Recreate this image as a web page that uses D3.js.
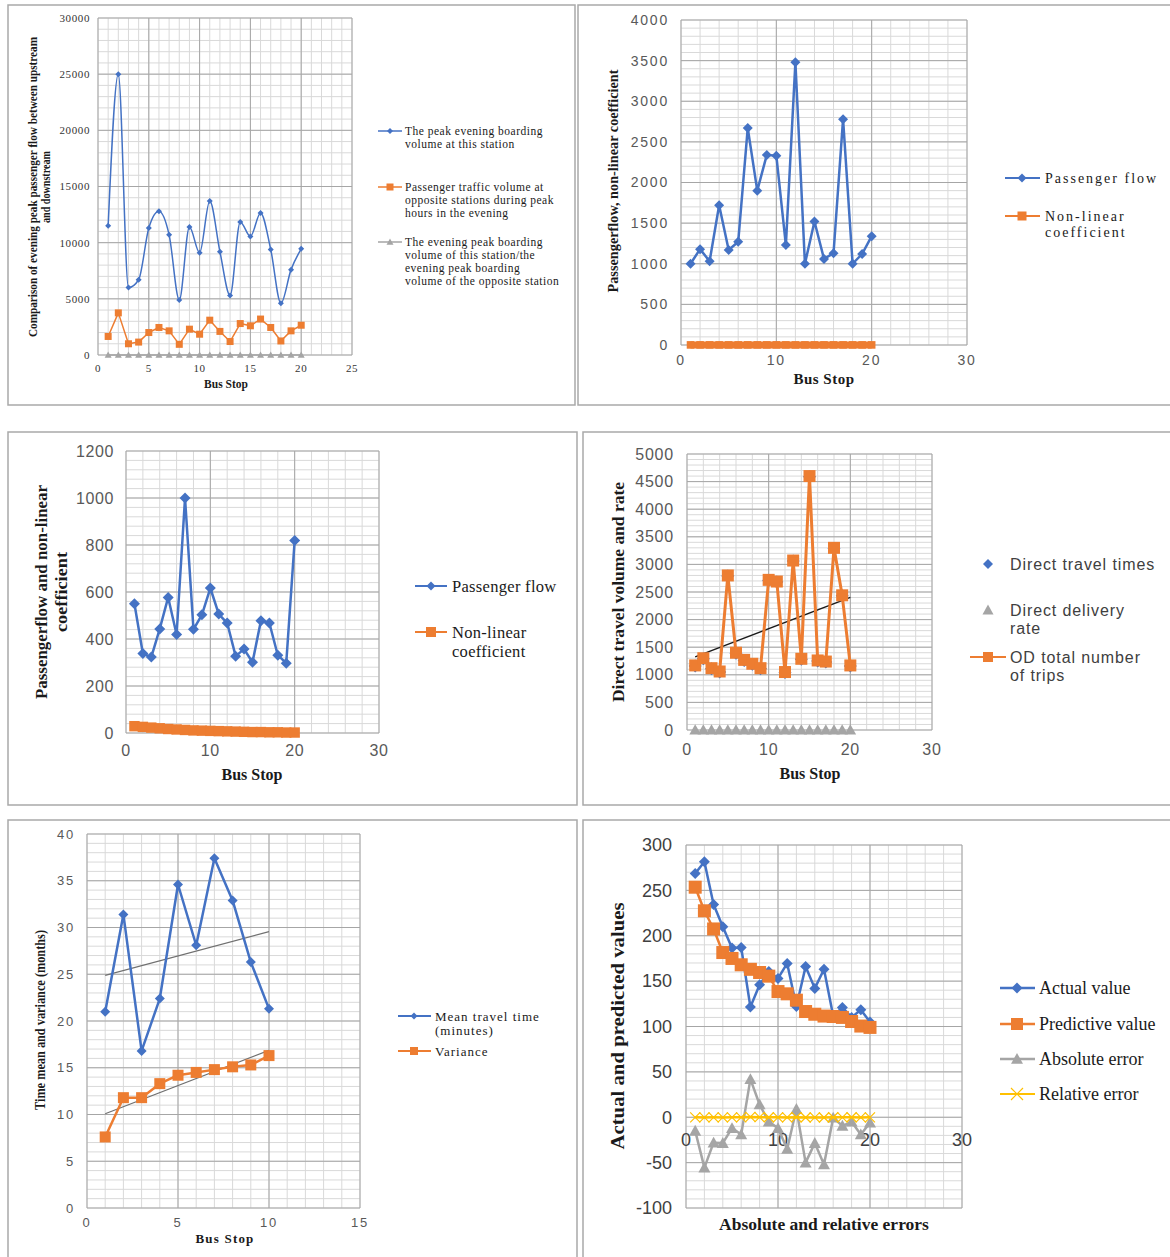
<!DOCTYPE html>
<html><head><meta charset="utf-8">
<script src="https://cdn.jsdelivr.net/npm/d3@7"></script>
<style>body{margin:0;background:#fff}svg{display:block}</style>
</head><body>
<svg id="c" width="1170" height="1257"></svg>
<script>
// ---------------- DATA ----------------
const stops20 = [1,2,3,4,5,6,7,8,9,10,11,12,13,14,15,16,17,18,19,20];
const stops10 = [1,2,3,4,5,6,7,8,9,10];

// Panel 1
const p1Boarding = [11500,25000,6000,6700,11300,12800,10700,4900,11400,9100,13700,9200,5300,11850,10550,12650,9400,4600,7600,9450];
const p1Opposite = [1650,3750,1000,1150,2000,2450,2150,950,2300,1850,3100,2100,1200,2800,2600,3200,2450,1250,2150,2650];
const p1Ratio = [7.0,6.7,6.0,5.8,5.7,5.2,5.0,5.2,4.9,4.9,4.4,4.4,4.4,4.2,4.1,4.0,3.8,3.7,3.5,3.6];
const p1YTicks = [0,5000,10000,15000,20000,25000,30000];
const p1XTicks = [0,5,10,15,20,25];

// Panel 2
const p2Flow = [1000,1180,1030,1720,1170,1270,2670,1900,2340,2330,1230,3480,1000,1520,1060,1130,2780,1000,1120,1340];
const p2Coef = [1.2,1.1,1.3,1.0,1.2,1.1,1.4,1.2,1.1,1.3,1.2,1.0,1.2,1.1,1.3,1.2,1.1,1.2,1.0,1.1];
const p2YTicks = [0,500,1000,1500,2000,2500,3000,3500,4000];
const p2XTicks = [0,10,20,30];

// Panel 3
const p3Flow = [550,338,323,443,577,419,1000,441,503,617,506,468,327,357,301,478,468,331,297,819];
const p3Coef = [29,26,23,20,17,15,13,11,10,9,8,7,6,5,4,4,3,3,2,2];
const p3YTicks = [0,200,400,600,800,1000,1200];
const p3XTicks = [0,10,20,30];

// Panel 4
const p4Trips = [1170,1300,1120,1060,2800,1400,1270,1200,1120,2720,2690,1050,3070,1290,4600,1260,1240,3300,2440,1170];
const p4Times = [1160,1290,1110,1050,2790,1390,1260,1190,1110,2710,2680,1040,3060,1280,4590,1250,1230,3290,2430,1160];
const p4Rate = [0.8,0.9,0.7,0.8,0.9,0.8,0.7,0.8,0.9,0.8,0.7,0.8,0.9,0.8,0.9,0.8,0.7,0.8,0.9,0.8];
const p4YTicks = [0,500,1000,1500,2000,2500,3000,3500,4000,4500,5000];
const p4XTicks = [0,10,20,30];

// Panel 5
const p5Mean = [21.0,31.4,16.8,22.4,34.6,28.1,37.4,32.9,26.3,21.3];
const p5Var = [7.6,11.8,11.8,13.3,14.2,14.5,14.8,15.1,15.3,16.3];
const p5YTicks = [0,5,10,15,20,25,30,35,40];
const p5XTicks = [0,5,10,15];

// Panel 6
const p6Actual = [268.5,281.5,234.5,210,186.5,187,121.5,146,160.5,153,169.5,122,166,142,163,111.5,121,110,118.5,105];
const p6Pred = [253.5,227.5,207.5,181.5,175,168,163,159.5,155.5,138.5,136,129,116.5,113.5,111.5,111,110,105.5,100.5,99];
const p6AbsErr = [-15,-55.5,-28,-28.5,-12,-19,42,14,-5,-12,-35,9,-50,-28.5,-52,-0.5,-9.5,-5,-19,-6];
const p6RelErr = [-0.06,-0.2,-0.12,-0.14,-0.06,-0.1,0.35,0.1,-0.03,-0.08,-0.21,0.07,-0.3,-0.2,-0.32,0,-0.08,-0.05,-0.16,-0.06];
const p6YTicks = [-100,-50,0,50,100,150,200,250,300];
const p6XTicks = [0,10,20,30];

// ---------------- STYLE ----------------
const BLUE = '#4472C4', ORANGE = '#ED7D31', GRAY = '#A5A5A5', YELLOW = '#FFC000';
const SERIF = '"Liberation Serif","Times New Roman",serif';
const SANS = '"Liberation Sans",Arial,sans-serif';
const svg = d3.select('#c');

// panel borders
[[8,5,567,400],[578,5,600,400],[8,432,569,373],[583,432,600,373],[8,820,569,460],[583,820,600,460]].forEach(b=>{
  svg.append('rect').attr('x',b[0]).attr('y',b[1]).attr('width',b[2]).attr('height',b[3])
    .attr('fill','none').attr('stroke','#a9a9a9').attr('stroke-width',1.5);
});

function marker(g, type, cx, cy, s, color){
  if(type==='diamond'){
    g.append('path').attr('d',`M${cx},${cy-s}L${cx+s},${cy}L${cx},${cy+s}L${cx-s},${cy}Z`).attr('fill',color);
  } else if(type==='square'){
    g.append('rect').attr('x',cx-s).attr('y',cy-s).attr('width',2*s).attr('height',2*s).attr('fill',color);
  } else if(type==='triangle'){
    g.append('path').attr('d',`M${cx},${cy-s}L${cx+s},${cy+s*0.8}L${cx-s},${cy+s*0.8}Z`).attr('fill',color);
  } else if(type==='x'){
    g.append('path').attr('d',`M${cx-s},${cy-s}L${cx+s},${cy+s}M${cx-s},${cy+s}L${cx+s},${cy-s}`).attr('stroke',color).attr('stroke-width',1.2).attr('fill','none');
  }
}

function panel(cfg){
  const g = svg.append('g');
  const x = d3.scaleLinear().domain(cfg.xd).range([cfg.L,cfg.R]);
  const y = d3.scaleLinear().domain(cfg.yd).range([cfg.B,cfg.T]);
  const rng = (a,b,s)=>d3.range(a,b+s/2,s);
  // minor grid
  rng(cfg.xd[0],cfg.xd[1],cfg.xm).forEach(v=>g.append('line').attr('x1',x(v)).attr('x2',x(v)).attr('y1',cfg.T).attr('y2',cfg.B).attr('stroke','#d9d9d9').attr('stroke-width',1));
  rng(cfg.yd[0],cfg.yd[1],cfg.ym).forEach(v=>g.append('line').attr('y1',y(v)).attr('y2',y(v)).attr('x1',cfg.L).attr('x2',cfg.R).attr('stroke','#d9d9d9').attr('stroke-width',1));
  // major grid
  rng(cfg.xd[0],cfg.xd[1],cfg.xM).forEach(v=>g.append('line').attr('x1',x(v)).attr('x2',x(v)).attr('y1',cfg.T).attr('y2',cfg.B).attr('stroke','#a6a6a6').attr('stroke-width',1));
  rng(cfg.yd[0],cfg.yd[1],cfg.yM).forEach(v=>g.append('line').attr('y1',y(v)).attr('y2',y(v)).attr('x1',cfg.L).attr('x2',cfg.R).attr('stroke','#a6a6a6').attr('stroke-width',1));
  // ticks
  const tf = t=>t.attr('font-family',cfg.tickFont).attr('font-size',cfg.tickSize).attr('fill',cfg.tickColor).attr('letter-spacing',cfg.tickLS||0);
  cfg.yTicks.forEach(v=>tf(g.append('text').attr('x',cfg.L-cfg.yGap).attr('y',y(v)).attr('dy','0.35em').attr('text-anchor','end').text(v)));
  const xAxisY = cfg.xAxisAt!==undefined ? y(cfg.xAxisAt) : cfg.B;
  cfg.xTicks.forEach(v=>tf(g.append('text').attr('x',x(v)).attr('y',xAxisY+cfg.xGap).attr('dy','0.35em').attr('text-anchor','middle').text(v)));
  // trendlines (least squares of the series)
  (cfg.trends||[]).forEach(tr=>{
    const xs=tr.xs, ys=tr.ys, n=xs.length;
    const mx=d3.mean(xs), my=d3.mean(ys);
    const b=d3.sum(xs.map((v,i)=>(v-mx)*(ys[i]-my)))/d3.sum(xs.map(v=>(v-mx)*(v-mx)));
    const a=my-b*mx;
    const x0=xs[0], x1=xs[n-1];
    g.append('line').attr('x1',x(x0)).attr('x2',x(x1)).attr('y1',y(a+b*x0)).attr('y2',y(a+b*x1))
      .attr('stroke',tr.color).attr('stroke-width',tr.w||1);
  });
  // series
  cfg.series.forEach(s=>{
    const pts = s.xs.map((v,i)=>[v,s.ys[i]]);
    if(s.line!==false){
      g.append('path').datum(pts).attr('fill','none').attr('stroke',s.color).attr('stroke-width',s.lw)
        .attr('stroke-linejoin','round')
        .attr('d',d3.line().x(d=>x(d[0])).y(d=>y(d[1])).curve(s.smooth?d3.curveMonotoneX:d3.curveLinear));
    }
    if(s.marker) pts.forEach(d=>marker(g,s.marker,x(d[0]),y(d[1]),s.ms,s.mcolor||s.color));
  });
  // Y title
  cfg.yTitle.forEach(t=>{
    const el=g.append('text').attr('transform',`translate(${t.x},${t.y}) rotate(-90)`).attr('text-anchor','middle').attr('dy','0.35em')
      .attr('font-family',SERIF).attr('font-weight','bold').attr('font-size',t.size).attr('fill','#1a1a1a').text(t.text);
    if(t.len) el.attr('textLength',t.len).attr('lengthAdjust','spacingAndGlyphs');
  });
  // X title
  const xt=cfg.xTitle;
  g.append('text').attr('x',xt.x).attr('y',xt.y).attr('dy','0.35em').attr('text-anchor','middle')
    .attr('font-family',SERIF).attr('font-weight','bold').attr('font-size',xt.size).attr('letter-spacing',xt.ls||0).attr('fill','#1a1a1a').text(xt.text);
  // legend
  cfg.legend.forEach(l=>{
    if(l.line) g.append('line').attr('x1',l.lx0).attr('x2',l.lx1).attr('y1',l.y).attr('y2',l.y).attr('stroke',l.color).attr('stroke-width',l.lw);
    if(l.marker) marker(g,l.marker,l.mx,l.y,l.ms,l.color);
    l.texts.forEach((t,i)=>g.append('text').attr('x',l.tx).attr('y',l.y+i*l.lh).attr('dy','0.35em')
      .attr('font-family',cfg.legFont).attr('font-size',cfg.legSize).attr('letter-spacing',cfg.legLS||0).attr('fill',cfg.legColor||'#1a1a1a').text(t));
  });
}

// ---------------- PANEL 1 ----------------
panel({L:98,R:352,T:18,B:355,xd:[0,25],yd:[0,30000],xm:1,xM:5,ym:1000,yM:5000,
  tickFont:SERIF,tickSize:11,tickColor:'#333',tickLS:0.6,yGap:8,xGap:13,yTicks:p1YTicks,xTicks:p1XTicks,
  series:[
    {xs:stops20,ys:p1Boarding,color:BLUE,lw:1.5,smooth:true,marker:'diamond',ms:3},
    {xs:stops20,ys:p1Opposite,color:ORANGE,lw:1.5,marker:'square',ms:3.5},
    {xs:stops20,ys:p1Ratio,color:GRAY,lw:1.5,marker:'triangle',ms:3.5}],
  yTitle:[{x:33,y:187,size:11.5,len:300,text:'Comparison of evening peak passenger flow between upstream'},
          {x:46,y:187,size:11.5,len:72,text:'and downstream'}],
  xTitle:{x:226,y:384,size:11.5,text:'Bus Stop'},
  legFont:SERIF,legSize:11.5,legLS:0.5,
  legend:[
    {line:true,lx0:378,lx1:402,y:131,color:BLUE,lw:1.5,marker:'diamond',mx:390,ms:3,tx:405,lh:13,texts:['The peak evening boarding','volume at this station']},
    {line:true,lx0:378,lx1:402,y:187,color:ORANGE,lw:1.5,marker:'square',mx:390,ms:3.5,tx:405,lh:13,texts:['Passenger traffic volume at','opposite stations during peak','hours in the evening']},
    {line:true,lx0:378,lx1:402,y:242,color:GRAY,lw:1.5,marker:'triangle',mx:390,ms:3.5,tx:405,lh:13,texts:['The evening peak boarding','volume of this station/the','evening peak boarding','volume of the opposite station']}]
});

// ---------------- PANEL 2 ----------------
panel({L:681,R:967,T:20,B:345,xd:[0,30],yd:[0,4000],xm:2,xM:10,ym:100,yM:500,
  tickFont:SANS,tickSize:14,tickColor:'#595959',tickLS:1.8,yGap:12,xGap:15,yTicks:p2YTicks,xTicks:p2XTicks,
  series:[
    {xs:stops20,ys:p2Flow,color:BLUE,lw:2.5,marker:'diamond',ms:5},
    {xs:stops20,ys:p2Coef,color:ORANGE,lw:7,marker:'square',ms:3.8}],
  yTitle:[{x:613,y:181,size:15,len:223,text:'Passengerflow, non-linear coefficient'}],
  xTitle:{x:824,y:379,size:15,ls:0.5,text:'Bus Stop'},
  legFont:SERIF,legSize:14,legLS:2,
  legend:[
    {line:true,lx0:1005,lx1:1040,y:178,color:BLUE,lw:2,marker:'diamond',mx:1022,ms:4.5,tx:1045,lh:16,texts:['Passenger flow']},
    {line:true,lx0:1005,lx1:1040,y:216,color:ORANGE,lw:2,marker:'square',mx:1022,ms:4.5,tx:1045,lh:16,texts:['Non-linear','coefficient']}]
});

// ---------------- PANEL 3 ----------------
panel({L:126,R:379,T:451,B:733,xd:[0,30],yd:[0,1200],xm:2,xM:10,ym:40,yM:200,
  tickFont:SANS,tickSize:16,tickColor:'#595959',tickLS:0.6,yGap:12,xGap:17,yTicks:p3YTicks,xTicks:p3XTicks,
  series:[
    {xs:stops20,ys:p3Flow,color:BLUE,lw:2.5,marker:'diamond',ms:5.5},
    {xs:stops20,ys:p3Coef,color:ORANGE,lw:7,marker:'square',ms:5.2}],
  yTitle:[{x:41,y:592,size:16.5,len:214,text:'Passengerflow and non-linear'},
          {x:61,y:592,size:16.5,len:80,text:'coefficient'}],
  xTitle:{x:252,y:774,size:16,text:'Bus Stop'},
  legFont:SERIF,legSize:16.5,legLS:0.3,
  legend:[
    {line:true,lx0:415,lx1:447,y:586,color:BLUE,lw:2,marker:'diamond',mx:431,ms:4.5,tx:452,lh:19,texts:['Passenger flow']},
    {line:true,lx0:415,lx1:447,y:632,color:ORANGE,lw:2,marker:'square',mx:431,ms:5,tx:452,lh:19,texts:['Non-linear','coefficient']}]
});

// ---------------- PANEL 4 ----------------
panel({L:687,R:932,T:454,B:730,xd:[0,30],yd:[0,5000],xm:2,xM:10,ym:100,yM:500,
  tickFont:SANS,tickSize:16,tickColor:'#595959',tickLS:0.8,yGap:13,xGap:19,yTicks:p4YTicks,xTicks:p4XTicks,
  trends:[{xs:stops20,ys:p4Trips,color:'#1a1a1a',w:1.5}],
  series:[
    {xs:stops20,ys:p4Times,color:BLUE,line:false,marker:'diamond',ms:6.5},
    {xs:stops20,ys:p4Trips,color:ORANGE,lw:3,marker:'square',ms:6},
    {xs:stops20,ys:p4Rate,color:GRAY,line:false,marker:'triangle',ms:5.8}],
  yTitle:[{x:618,y:592,size:16.5,len:220,text:'Direct travel volume and rate'}],
  xTitle:{x:810,y:773,size:16,text:'Bus Stop'},
  legFont:SANS,legSize:16,legLS:0.9,legColor:'#404040',
  legend:[
    {line:false,y:564,color:BLUE,marker:'diamond',mx:988,ms:5,tx:1010,lh:18,texts:['Direct travel times']},
    {line:false,y:610,color:GRAY,marker:'triangle',mx:988,ms:5.5,tx:1010,lh:18,texts:['Direct delivery','rate']},
    {line:true,lx0:970,lx1:1006,y:657,color:ORANGE,lw:2,marker:'square',mx:988,ms:5,tx:1010,lh:18,texts:['OD total number','of trips']}]
});

// ---------------- PANEL 5 ----------------
panel({L:87,R:360,T:834,B:1208,xd:[0,15],yd:[0,40],xm:1,xM:5,ym:1,yM:5,
  tickFont:SANS,tickSize:13,tickColor:'#595959',tickLS:1.8,yGap:12,xGap:14,yTicks:p5YTicks,xTicks:p5XTicks,
  trends:[{xs:stops10,ys:p5Mean,color:'#707070',w:1.2},{xs:stops10,ys:p5Var,color:'#707070',w:1.2}],
  series:[
    {xs:stops10,ys:p5Mean,color:BLUE,lw:2.5,marker:'diamond',ms:5},
    {xs:stops10,ys:p5Var,color:ORANGE,lw:2.5,marker:'square',ms:5.5}],
  yTitle:[{x:40,y:1020,size:15,len:180,text:'Time mean and variance (months)'}],
  xTitle:{x:225,y:1238,size:13,ls:1.2,text:'Bus Stop'},
  legFont:SERIF,legSize:13,legLS:1,
  legend:[
    {line:true,lx0:398,lx1:431,y:1016,color:BLUE,lw:2,marker:'diamond',mx:414,ms:3.5,tx:435,lh:14,texts:['Mean travel time','(minutes)']},
    {line:true,lx0:398,lx1:431,y:1051,color:ORANGE,lw:2,marker:'square',mx:414,ms:4,tx:435,lh:14,texts:['Variance']}]
});

// ---------------- PANEL 6 ----------------
panel({L:686,R:962,T:845,B:1208,xd:[0,30],yd:[-100,300],xm:2,xM:10,ym:10,yM:50,xAxisAt:0,
  tickFont:SANS,tickSize:18,tickColor:'#404040',tickLS:0,yGap:14,xGap:22,yTicks:p6YTicks,xTicks:p6XTicks,
  series:[
    {xs:stops20,ys:p6Actual,color:BLUE,lw:2.5,marker:'diamond',ms:5.5},
    {xs:stops20,ys:p6Pred,color:ORANGE,lw:2.5,marker:'square',ms:6.5},
    {xs:stops20,ys:p6AbsErr,color:GRAY,lw:2.5,marker:'triangle',ms:6},
    {xs:stops20,ys:p6RelErr,color:YELLOW,lw:2.5,marker:'x',ms:5}],
  yTitle:[{x:618,y:1026,size:18,len:247,text:'Actual and predicted values'}],
  xTitle:{x:824,y:1224,size:17.5,text:'Absolute and relative errors'},
  legFont:SERIF,legSize:18,
  legend:[
    {line:true,lx0:1000,lx1:1035,y:988,color:BLUE,lw:2.5,marker:'diamond',mx:1017,ms:5.5,tx:1039,lh:20,texts:['Actual value']},
    {line:true,lx0:1000,lx1:1035,y:1024,color:ORANGE,lw:2.5,marker:'square',mx:1017,ms:6,tx:1039,lh:20,texts:['Predictive value']},
    {line:true,lx0:1000,lx1:1035,y:1059,color:GRAY,lw:2.5,marker:'triangle',mx:1017,ms:6,tx:1039,lh:20,texts:['Absolute error']},
    {line:true,lx0:1000,lx1:1035,y:1094,color:YELLOW,lw:2,marker:'x',mx:1017,ms:6,tx:1039,lh:20,texts:['Relative error']}]
});
</script>
</body></html>
